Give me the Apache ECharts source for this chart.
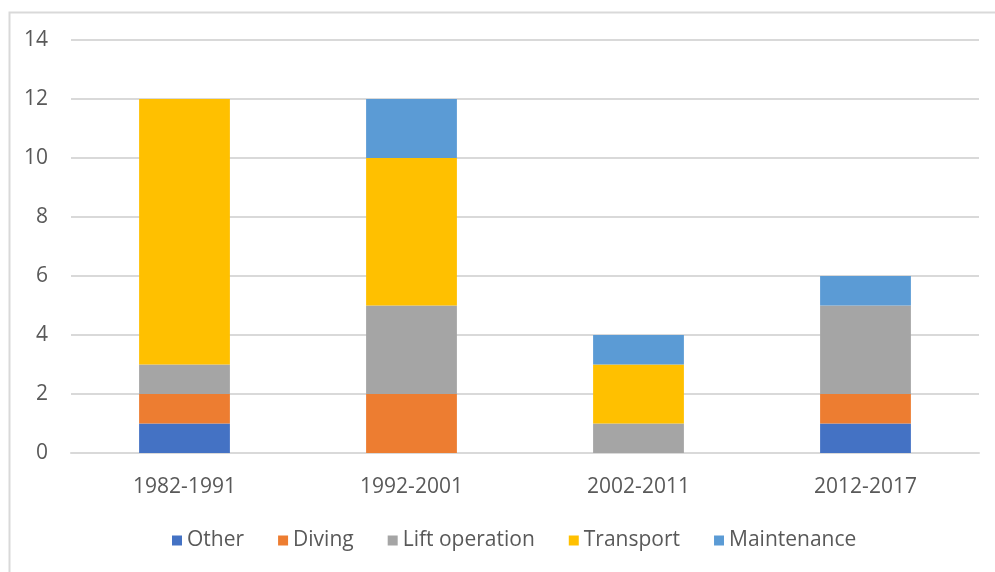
<!DOCTYPE html>
<html>
<head>
<meta charset="utf-8">
<script src="https://cdn.jsdelivr.net/npm/echarts@6/dist/echarts.min.js"></script>
<style>
  html, body { margin: 0; padding: 0; background: #fff; }
  #chart { width: 995px; height: 572px; }
</style>
</head>
<body>
<div id="chart"></div>
<script>
// periods on the x axis
var periods = ['1982-1991', '1992-2001', '2002-2011', '2012-2017'];
// one array per cause, stacked bottom to top
var other = [1, 0, 0, 1];
var diving = [1, 2, 0, 1];
var liftOperation = [1, 3, 1, 3];
var transport = [9, 5, 2, 0];
var maintenance = [0, 2, 1, 1];

var seriesNames = ['Other', 'Diving', 'Lift operation', 'Transport', 'Maintenance'];
var seriesData = [other, diving, liftOperation, transport, maintenance];
var colors = ['#4472C4', '#ED7D31', '#A5A5A5', '#FFC000', '#5B9BD5'];

var textColor = '#595959';
var fontFam = 'Open Sans';

var chart = echarts.init(document.getElementById('chart'));

var series = [];
for (var i = 0; i < seriesNames.length; i++) {
    series.push({
        name: seriesNames[i],
        type: 'bar',
        stack: 'total',
        barWidth: '40%',
        itemStyle: { color: colors[i] },
        data: seriesData[i]
    });
}

var option = {
    animation: false,
    color: colors,
    textStyle: { fontFamily: fontFam },
    graphic: [{
        type: 'rect',
        left: 7,
        top: 10,
        shape: { width: 1000, height: 600 },
        style: { fill: 'none', stroke: '#d9d9d9', lineWidth: 2 }
    }],
    grid: { left: 71, right: 16, top: 40, bottom: 119 },
    legend: {
        bottom: 16,
        left: 167,
        itemWidth: 10,
        itemHeight: 10,
        itemGap: 34,
        icon: 'rect',
        textStyle: { color: textColor, fontSize: 21, fontFamily: fontFam },
        data: seriesNames
    },
    xAxis: {
        type: 'category',
        data: periods,
        axisTick: { show: false },
        axisLine: { lineStyle: { color: '#d9d9d9', width: 2 } },
        axisLabel: { color: textColor, fontSize: 21, margin: 24, fontFamily: fontFam }
    },
    yAxis: {
        type: 'value',
        min: 0,
        max: 14,
        interval: 2,
        axisLine: { show: false },
        axisTick: { show: false },
        splitLine: { lineStyle: { color: '#d9d9d9', width: 2 } },
        axisLabel: { color: textColor, fontSize: 21, margin: 23, fontFamily: fontFam }
    },
    series: series
};

chart.setOption(option);
</script>
</body>
</html>
